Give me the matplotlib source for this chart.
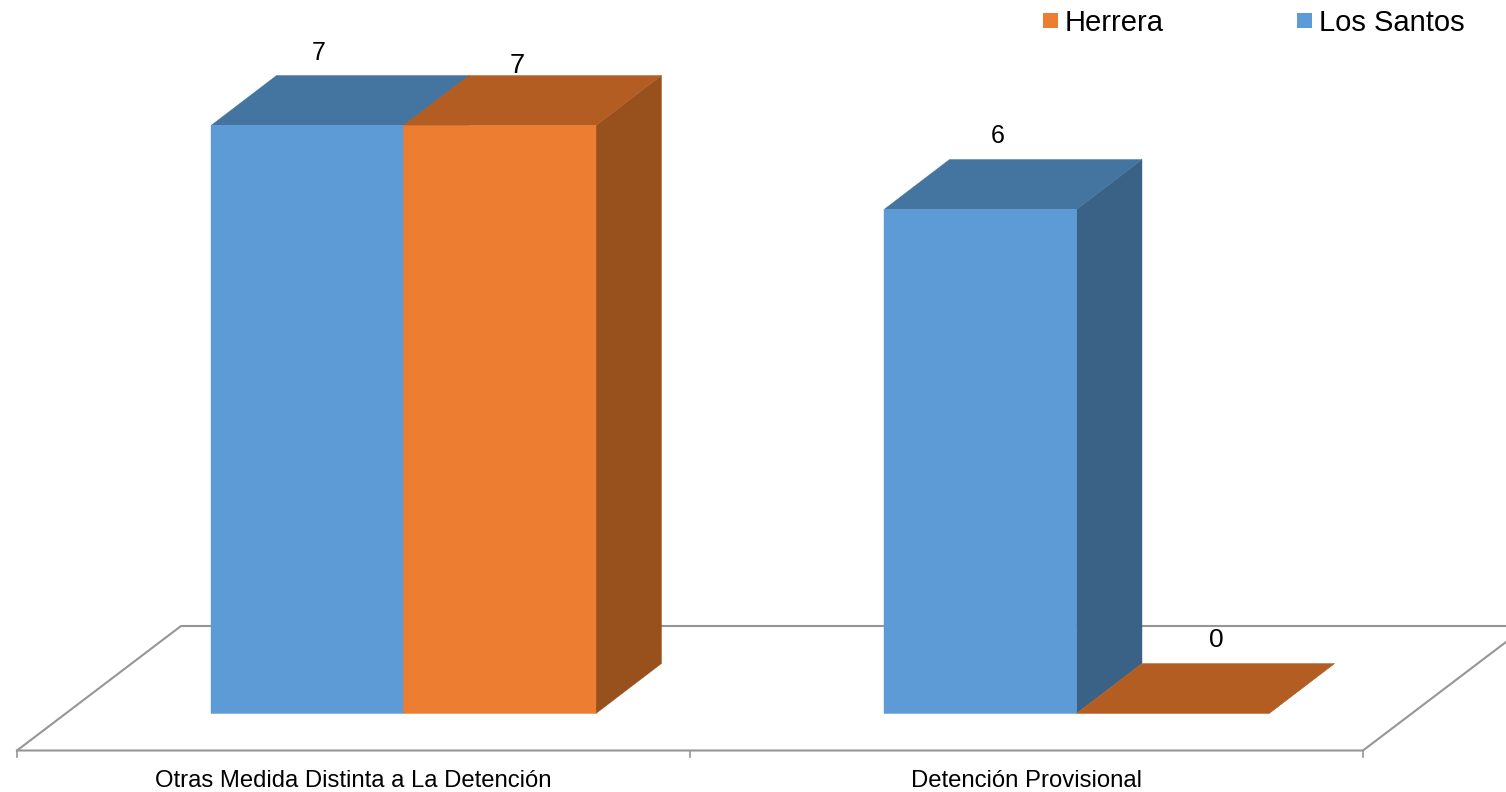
import matplotlib
matplotlib.use("Agg")
import matplotlib.pyplot as plt
from matplotlib.patches import Polygon, Rectangle

plt.rcParams['font.family'] = ['Liberation Sans', 'DejaVu Sans']

categories = ["Otras Medida Distinta a La Detención", "Detención Provisional"]
series_names = ["Los Santos", "Herrera"]
los_santos = [7, 6]
herrera = [7, 0]

BLUE = ("#5D9BD7", "#4474A0", "#3A6287")
ORANGE = ("#ED7D31", "#B35D22", "#98501D")
GRID = "#969696"

W, H = 1506, 792
fig = plt.figure(figsize=(W / 100, H / 100), dpi=100)
ax = fig.add_axes([0, 0, 1, 1])
ax.set_xlim(0, W)
ax.set_ylim(H, 0)
ax.axis("off")

Y0, UNIT = 713.5, 84.0
DX, DY = 65.5, -50
CAT0, CATW = 17, 673
BAR0, BARW = 211, 192.5


def vy(v):
    return Y0 - UNIT * v


# floor
ax.plot([17, 181, 1506], [750.5, 626, 626], color=GRID, lw=1.5, zorder=1)
ax.plot([17, 1363, 1506], [750.5, 750.5, 642], color=GRID, lw=1.5, zorder=1)
for i in range(3):
    x = CAT0 + CATW * i
    ax.plot([x, x], [750.5, 757], color=GRID, lw=1.2, zorder=1)


def bar3d(x, v, cols, z):
    top = vy(v)
    ax.add_patch(Polygon([(x + BARW, Y0), (x + BARW + DX, Y0 + DY),
                          (x + BARW + DX, top + DY), (x + BARW, top)],
                         fc=cols[2], ec=cols[2], lw=0.3, zorder=z, snap=False))
    ax.add_patch(Polygon([(x, top), (x + DX, top + DY),
                          (x + BARW + DX, top + DY), (x + BARW, top)],
                         fc=cols[1], ec=cols[1], lw=0.3, zorder=z + 0.1, snap=False))
    ax.add_patch(Rectangle((x, top), BARW, Y0 - top, fc=cols[0], ec=cols[0], lw=0.3,
                           zorder=z + 0.2, snap=False))


for i in range(len(categories)):
    base = BAR0 + CATW * i
    bar3d(base, los_santos[i], BLUE, 3)
    bar3d(base + BARW, herrera[i], ORANGE, 4)
    ax.text(CAT0 + CATW * (i + 0.5), 781, categories[i], ha="center", va="center",
            fontsize=17.2, color="#000000", zorder=10)

value_xy = [(319, 53, 18), (998, 136, 18), (517, 66, 19.5), (1216, 640, 19)]
for (x, y, fs), v in zip(value_xy, los_santos + herrera):
    ax.text(x, y, str(v), ha="center", va="center", fontsize=fs, color="#000000", zorder=10)

# legend
for name, cols, px, tx in [("Herrera", ORANGE, 1043, 1065), ("Los Santos", BLUE, 1297, 1319)]:
    ax.add_patch(Rectangle((px, 13), 15, 15, fc=cols[0], ec="none", zorder=10))
    ax.text(tx, 23, name, ha="left", va="center", fontsize=21, color="#000000", zorder=10)

fig.savefig("out.png", dpi=100, facecolor="white")
